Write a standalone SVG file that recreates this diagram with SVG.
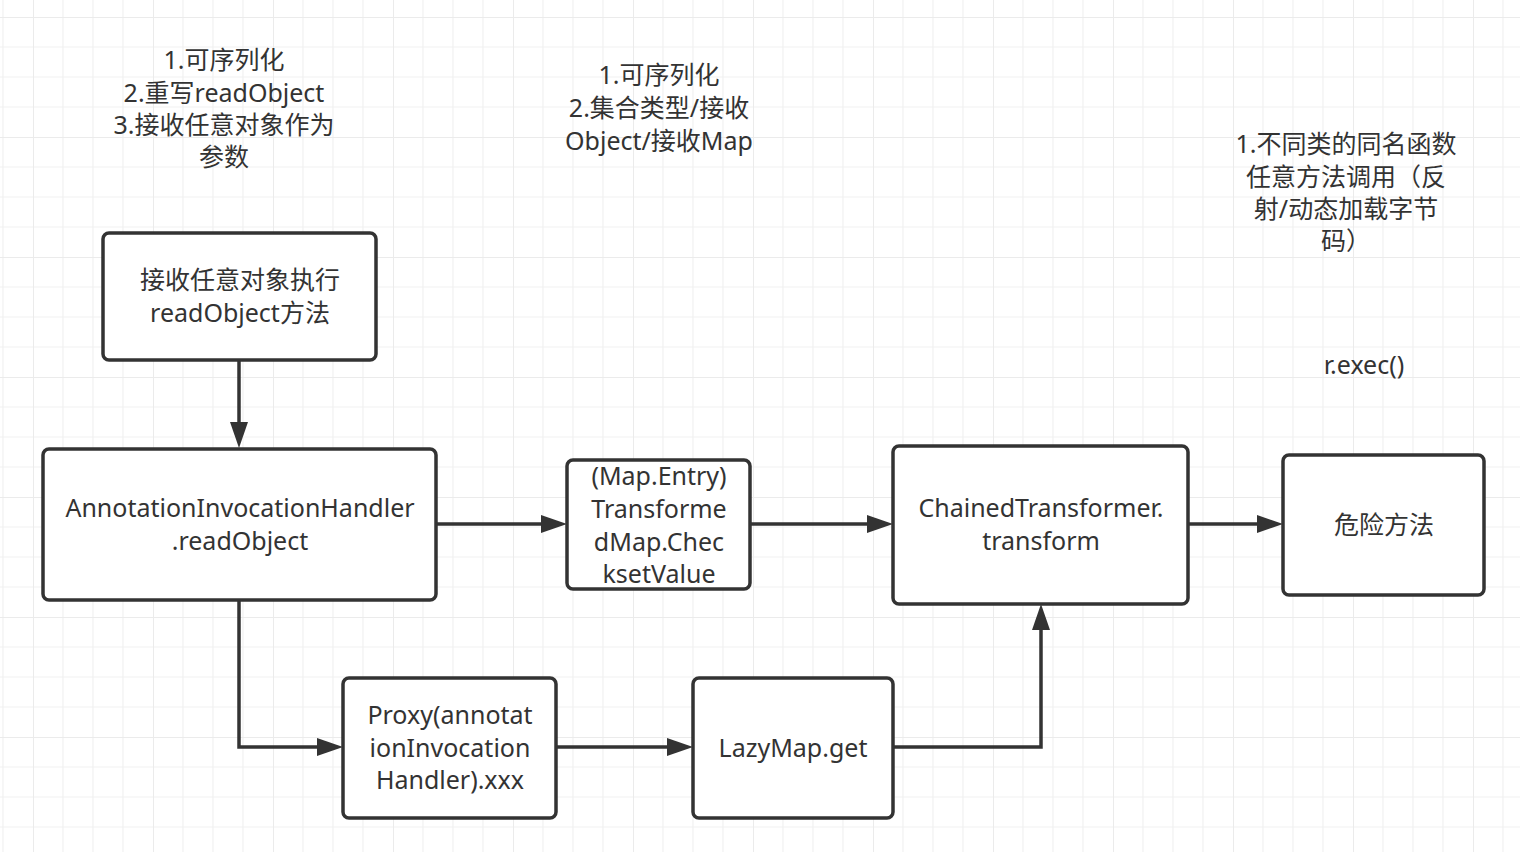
<svg xmlns="http://www.w3.org/2000/svg" width="1520" height="852" viewBox="0 0 1520 852">
  <defs>
    <pattern id="grid" x="33" y="17" width="120" height="120" patternUnits="userSpaceOnUse">
      <path d="M30,0 V120 M60,0 V120 M90,0 V120 M0,30 H120 M0,60 H120 M0,90 H120" stroke="#f1f1f1" stroke-width="1.2" fill="none"/>
      <path d="M0,0 V120 M0,0 H120" stroke="#ebebeb" stroke-width="2" fill="none"/>
    </pattern>
    <marker id="arrow" viewBox="0 0 26 18" refX="6" refY="9" markerWidth="26" markerHeight="18" markerUnits="userSpaceOnUse" orient="auto">
      <path d="M0,0 L26,9 L0,18 Z" fill="#333333"/>
    </marker>
  </defs>
  <style>
    .box { fill: #ffffff; stroke: #333333; stroke-width: 3.5; }
    .t { font-family: "Noto Sans", "Noto Sans CJK SC", sans-serif; font-size: 25px; fill: #333333; text-anchor: middle; }
    .edge { fill: none; stroke: #333333; stroke-width: 3.5; marker-end: url(#arrow); }
  </style>
  <rect x="0" y="0" width="1520" height="852" fill="#ffffff"/>
  <rect x="0" y="0" width="1520" height="852" fill="url(#grid)"/>

  <g id="notes">
    <text class="t" x="224" y="69">1.可序列化</text>
    <text class="t" x="224" y="102">2.重写readObject</text>
    <text class="t" x="224" y="134">3.接收任意对象作为</text>
    <text class="t" x="224" y="166">参数</text>
    <text class="t" x="659" y="84">1.可序列化</text>
    <text class="t" x="659" y="117">2.集合类型/接收</text>
    <text class="t" x="659" y="150">Object/接收Map</text>
    <text class="t" x="1346" y="153">1.不同类的同名函数</text>
    <text class="t" x="1346" y="186">任意方法调用（反</text>
    <text class="t" x="1346" y="218">射/动态加载字节</text>
    <text class="t" x="1346" y="250">码）</text>
    <text class="t" x="1364" y="374">r.exec()</text>
  </g>

  <g id="connectors">
    <path class="edge" d="M239,361 L239,428"/>
    <path class="edge" d="M437,524 L547,524"/>
    <path class="edge" d="M751,524 L873,524"/>
    <path class="edge" d="M1189,524 L1263,524"/>
    <path class="edge" d="M239,601 L239,747 L323,747"/>
    <path class="edge" d="M557,747 L673,747"/>
    <path class="edge" d="M894,747 L1041,747 L1041,624"/>
  </g>

  <g id="node-readobject">
    <rect class="box" x="103" y="233" width="273" height="127" rx="6"/>
    <text class="t" x="240" y="289">接收任意对象执行</text>
    <text class="t" x="240" y="322">readObject方法</text>
  </g>
  <g id="node-aih">
    <rect class="box" x="43" y="449" width="393" height="151" rx="6"/>
    <text class="t" x="240" y="517">AnnotationInvocationHandler</text>
    <text class="t" x="240" y="550">.readObject</text>
  </g>
  <g id="node-transformedmap">
    <rect class="box" x="567" y="460" width="183" height="129" rx="6"/>
    <text class="t" x="659" y="485">(Map.Entry)</text>
    <text class="t" x="659" y="518">Transforme</text>
    <text class="t" x="659" y="551">dMap.Chec</text>
    <text class="t" x="659" y="583">ksetValue</text>
  </g>
  <g id="node-chained">
    <rect class="box" x="893" y="446" width="295" height="158" rx="6"/>
    <text class="t" x="1041" y="517">ChainedTransformer.</text>
    <text class="t" x="1041" y="550">transform</text>
  </g>
  <g id="node-danger">
    <rect class="box" x="1283" y="455" width="201" height="140" rx="6"/>
    <text class="t" x="1384" y="534">危险方法</text>
  </g>
  <g id="node-proxy">
    <rect class="box" x="343" y="678" width="213" height="140" rx="6"/>
    <text class="t" x="450" y="724">Proxy(annotat</text>
    <text class="t" x="450" y="757">ionInvocation</text>
    <text class="t" x="450" y="789">Handler).xxx</text>
  </g>
  <g id="node-lazymap">
    <rect class="box" x="693" y="678" width="200" height="140" rx="6"/>
    <text class="t" x="793" y="757">LazyMap.get</text>
  </g>
</svg>
